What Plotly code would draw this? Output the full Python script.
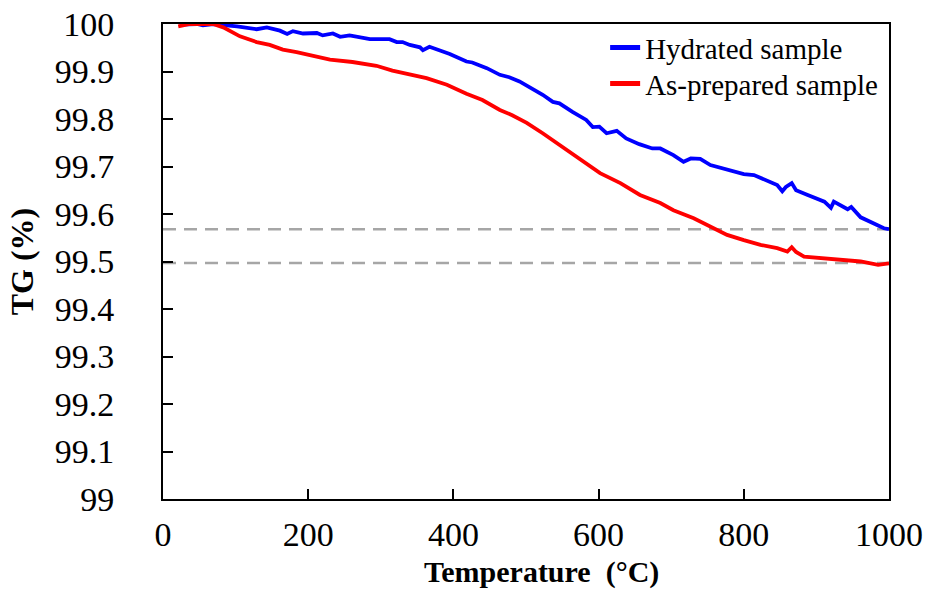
import plotly.graph_objects as go

# ---- data ----
hydrated_T = [23, 47, 55, 69, 102, 129, 143, 161, 171, 179, 193, 212, 220, 234, 244, 257, 285, 312, 322, 330,
              340, 354, 358, 367, 395, 418, 426, 446, 464, 477, 491, 509, 523, 537, 546, 564, 583, 592, 601, 611,
              625, 638, 656, 674, 685, 703, 717, 727, 740, 754, 777, 800, 814, 828, 846, 853, 858, 866, 872, 888,
              911, 920, 924, 943, 948, 961, 980, 993, 1000]
hydrated_TG = [99.999, 100.0, 99.997, 100.0, 99.995, 99.989, 99.993, 99.986, 99.979, 99.985, 99.980, 99.981,
               99.976, 99.980, 99.973, 99.976, 99.968, 99.968, 99.962, 99.962, 99.956, 99.951, 99.945, 99.952,
               99.937, 99.921, 99.919, 99.907, 99.893, 99.888, 99.879, 99.863, 99.851, 99.836, 99.833, 99.815,
               99.798, 99.783, 99.784, 99.770, 99.775, 99.759, 99.747, 99.738, 99.738, 99.724, 99.710, 99.717,
               99.716, 99.703, 99.693, 99.684, 99.682, 99.672, 99.661, 99.648, 99.657, 99.665, 99.650, 99.640,
               99.626, 99.613, 99.626, 99.610, 99.615, 99.593, 99.580, 99.570, 99.568]

asprep_T = [21, 37, 69, 83, 106, 129, 147, 165, 184, 206, 230, 261, 294, 316, 340, 363, 391, 418, 440, 464,
            481, 501, 523, 546, 574, 602, 630, 657, 685, 703, 731, 754, 777, 800, 823, 846, 860, 866, 872, 883,
            906, 934, 961, 985, 1000]
asprep_TG = [99.995, 100.0, 100.0, 99.993, 99.974, 99.962, 99.956, 99.946, 99.941, 99.934, 99.925, 99.920,
             99.912, 99.902, 99.893, 99.886, 99.872, 99.853, 99.840, 99.819, 99.808, 99.792, 99.770, 99.745,
             99.716, 99.686, 99.665, 99.640, 99.623, 99.608, 99.591, 99.573, 99.556, 99.545, 99.535, 99.528,
             99.521, 99.530, 99.520, 99.510, 99.507, 99.505, 99.500, 99.493, 99.496]

reference_levels = [99.568, 99.497]
x_span = [0, 1000]

y_tickvals = [99.0, 99.1, 99.2, 99.3, 99.4, 99.5, 99.6, 99.7, 99.8, 99.9, 100.0]
y_ticktext = ["99", "99.1", "99.2", "99.3", "99.4", "99.5", "99.6", "99.7", "99.8", "99.9", "100"]
x_tickvals = [0, 200, 400, 600, 800, 1000]

x_title = "<b>Temperature  (°C)</b>"
y_title = "<b>TG (%)</b>"

FONT = "Liberation Serif"

fig = go.Figure()

for lvl in reference_levels:
    fig.add_trace(go.Scatter(x=x_span, y=[lvl, lvl], mode="lines", showlegend=False, hoverinfo="skip",
                             line=dict(color="#A6A6A6", width=2.4, dash="13px,8px")))

fig.add_trace(go.Scatter(x=hydrated_T, y=hydrated_TG, mode="lines", name="Hydrated sample",
                         legend="legend", line=dict(color="#0000FF", width=3.8)))
fig.add_trace(go.Scatter(x=asprep_T, y=asprep_TG, mode="lines", name="As-prepared sample",
                         legend="legend2", line=dict(color="#FF0000", width=3.8)))

legend_style = dict(xanchor="left", yanchor="top", bgcolor="rgba(0,0,0,0)", borderwidth=0,
                    font=dict(family=FONT, size=29, color="black"), itemsizing="constant")

fig.update_layout(
    width=928, height=609, autosize=False,
    margin=dict(l=163, r=39, t=24, b=110, pad=0),
    paper_bgcolor="white", plot_bgcolor="white",
    font=dict(family=FONT, size=34, color="black"),
    showlegend=True,
    legend=dict(x=0.609, y=1.004, **legend_style),
    legend2=dict(x=0.609, y=0.928, **legend_style),
    annotations=[dict(text=x_title, xref="paper", yref="paper", x=0.522, y=-0.153,
                      xanchor="center", yanchor="middle", showarrow=False,
                      font=dict(family=FONT, size=30, color="black"))],
)

fig.update_xaxes(
    range=[0, 1000], tickvals=x_tickvals, automargin=False,
    ticks="inside", ticklen=10, tickwidth=2, tickcolor="black",
    showline=True, linecolor="black", linewidth=2, mirror=True,
    showgrid=False, zeroline=False,
    tickfont=dict(family=FONT, size=34, color="black"),
    ticklabelstandoff=4, ticklabeloverflow="allow",
)
fig.update_yaxes(
    range=[99, 100], tickvals=y_tickvals, ticktext=y_ticktext, automargin=False,
    ticks="inside", ticklen=10, tickwidth=2, tickcolor="black",
    showline=True, linecolor="black", linewidth=2, mirror=True,
    showgrid=False, zeroline=False,
    tickfont=dict(family=FONT, size=34, color="black"),
    ticklabelstandoff=40, ticklabeloverflow="allow",
    title=dict(text=y_title, font=dict(family=FONT, size=32, color="black"), standoff=12),
)

# remove the browser's default 8px page margin so the figure fills the window exactly
fig.write_html("out.html",
               config={"displayModeBar": False},
               post_script="document.body.style.margin='0';document.body.style.overflow='hidden';")
